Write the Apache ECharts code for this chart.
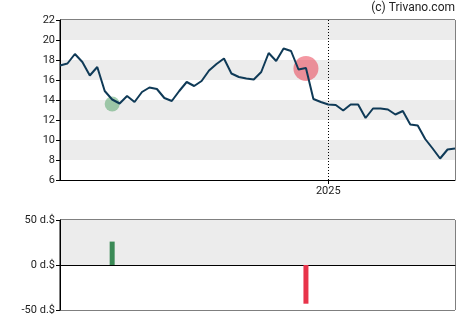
<!DOCTYPE html>
<html>
<head>
<meta charset="utf-8">
<script src="https://cdn.jsdelivr.net/npm/echarts@6/dist/echarts.min.js"></script>
<style>
  html, body { margin: 0; padding: 0; background: #fff; }
  #chart { width: 470px; height: 325px; }
</style>
</head>
<body>
<div id="chart"></div>
<script>
// Weekly closing dates
const weeks = [
  '2024-04-26','2024-05-03','2024-05-10','2024-05-17','2024-05-24','2024-05-31',
  '2024-06-07','2024-06-14','2024-06-21','2024-06-28','2024-07-05','2024-07-12',
  '2024-07-19','2024-07-26','2024-08-02','2024-08-09','2024-08-16','2024-08-23',
  '2024-08-30','2024-09-06','2024-09-13','2024-09-20','2024-09-27','2024-10-04',
  '2024-10-11','2024-10-18','2024-10-25','2024-11-01','2024-11-08','2024-11-15',
  '2024-11-22','2024-11-29','2024-12-06','2024-12-13','2024-12-20','2024-12-27',
  '2025-01-03','2025-01-10','2025-01-17','2025-01-24','2025-01-31','2025-02-07',
  '2025-02-14','2025-02-21','2025-02-28','2025-03-07','2025-03-14','2025-03-21',
  '2025-03-28','2025-04-04','2025-04-11','2025-04-18','2025-04-25','2025-05-02'
];

// Weekly close prices
const prices = [
  17.45, 17.65, 18.6, 17.8, 16.45, 17.3, 14.9, 14.05, 13.65, 14.4,
  13.8, 14.8, 15.25, 15.1, 14.2, 13.9, 14.9, 15.8, 15.4, 15.9,
  16.95, 17.6, 18.15, 16.65, 16.3, 16.15, 16.05, 16.8, 18.7, 17.9,
  19.15, 18.9, 17.05, 17.2, 14.1, 13.8, 13.55, 13.5, 12.95, 13.55,
  13.55, 12.2, 13.15, 13.15, 13.05, 12.55, 12.9, 11.55, 11.45, 10.1,
  9.15, 8.15, 9.05, 9.15
];

// Insider transactions (net value per week)
const buyDates = ['2024-06-14'];
const buyPrices = [13.6];
const buyValues = [26];
const sellDates = ['2024-12-13'];
const sellPrices = [17.15];
const sellValues = [-43];

const yearStart = '2025-01-03';
const yearLabel = '2025';
const priceTicks = [6, 8, 10, 12, 14, 16, 18, 20, 22];
const flowTicks = [-50, 0, 50];

const font = 'Roboto, "Liberation Sans", Arial, sans-serif';
const yearIdx = weeks.indexOf(yearStart);

const flowData = weeks.map(d => {
  const b = buyDates.indexOf(d);
  if (b >= 0) return { value: buyValues[b], itemStyle: { color: '#3b8a56' } };
  const s = sellDates.indexOf(d);
  if (s >= 0) return { value: sellValues[s], itemStyle: { color: '#e8334a' } };
  return null;
});

const chart = echarts.init(document.getElementById('chart'), null, { renderer: 'canvas' });
chart.setOption({
  animation: false,
  backgroundColor: '#ffffff',
  graphic: [{
    type: 'text', right: 15, top: 2,
    style: { text: '(c) Trivano.com', font: '12px ' + font, fill: '#222' }
  }],
  grid: [
    { left: 60, right: 15, top: 20, height: 160, show: true, borderColor: '#000', borderWidth: 1, backgroundColor: 'transparent' },
    { left: 60, right: 15, top: 220, height: 90, show: true, borderColor: '#000', borderWidth: 1, backgroundColor: 'transparent' }
  ],
  xAxis: [
    {
      type: 'category', gridIndex: 0, data: weeks, boundaryGap: false,
      axisLine: { show: true, lineStyle: { color: '#000', width: 1 } },
      axisTick: { show: true, length: 4, interval: i => i === yearIdx, lineStyle: { color: '#000' } },
      axisLabel: {
        interval: i => i === yearIdx, formatter: () => yearLabel,
        color: '#222', fontSize: 11, fontFamily: font, margin: 6
      },
      splitLine: { show: true, interval: i => i === yearIdx, lineStyle: { color: '#000', type: [1, 2], width: 1 } }
    },
    {
      type: 'category', gridIndex: 1, data: weeks, boundaryGap: false,
      axisLine: { show: true, onZero: true, lineStyle: { color: '#000', width: 1 } },
      axisTick: { show: false }, axisLabel: { show: false }, splitLine: { show: false }
    }
  ],
  yAxis: [
    {
      type: 'value', gridIndex: 0, min: priceTicks[0], max: priceTicks[priceTicks.length - 1], interval: 2,
      axisLine: { show: true, lineStyle: { color: '#000' } },
      axisTick: { show: true, length: 4, lineStyle: { color: '#000' } },
      axisLabel: { color: '#222', fontSize: 11, fontFamily: font, margin: 5 },
      splitLine: { show: false },
      splitArea: { show: true, areaStyle: { color: ['#ffffff', '#ececec'] } }
    },
    {
      type: 'value', gridIndex: 1, min: flowTicks[0], max: flowTicks[flowTicks.length - 1], interval: 50,
      axisLine: { show: true, lineStyle: { color: '#000' } },
      axisTick: { show: true, length: 4, lineStyle: { color: '#000' } },
      axisLabel: { color: '#222', fontSize: 11, fontFamily: font, margin: 5, formatter: v => v + ' d.$' },
      splitLine: { show: false },
      splitArea: { show: true, areaStyle: { color: ['#ffffff', '#ececec'] } }
    }
  ],
  series: [
    {
      type: 'scatter', xAxisIndex: 0, yAxisIndex: 0,
      data: buyDates.map((d, i) => [d, buyPrices[i]]),
      symbolSize: 15, itemStyle: { color: 'rgba(55,150,80,0.55)' }, z: 2
    },
    {
      type: 'scatter', xAxisIndex: 0, yAxisIndex: 0,
      data: sellDates.map((d, i) => [d, sellPrices[i]]),
      symbolSize: 25, itemStyle: { color: 'rgba(232,40,60,0.6)' }, z: 2
    },
    {
      type: 'line', xAxisIndex: 0, yAxisIndex: 0, data: prices,
      symbol: 'none', lineStyle: { color: '#0f3a57', width: 2 }, z: 3
    },
    {
      type: 'bar', xAxisIndex: 1, yAxisIndex: 1, data: flowData, barWidth: 5, z: 3
    }
  ]
});
</script>
</body>
</html>
